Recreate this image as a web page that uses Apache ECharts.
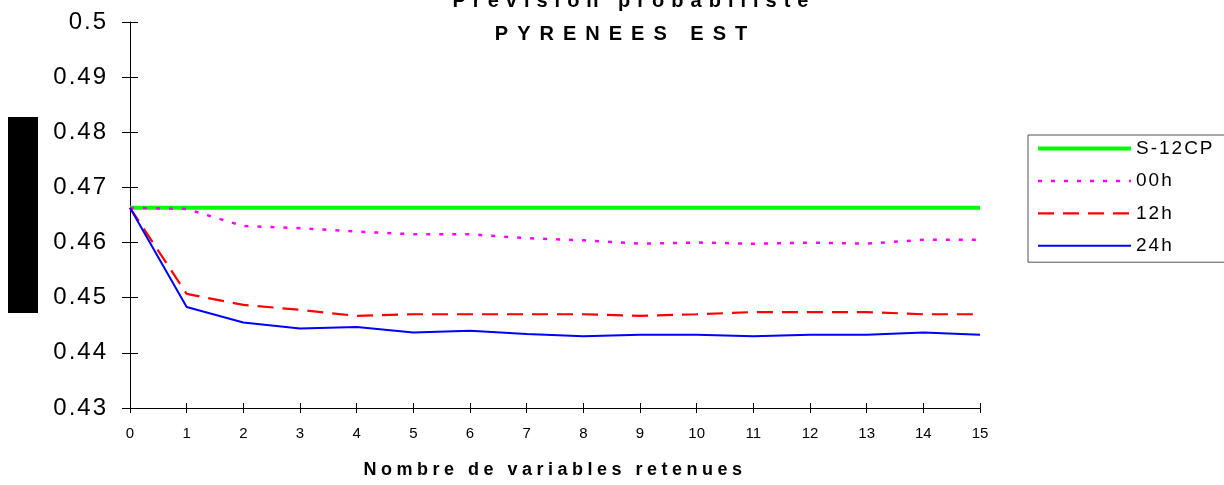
<!DOCTYPE html>
<html>
<head>
<meta charset="utf-8">
<script src="https://cdn.jsdelivr.net/npm/echarts@6/dist/echarts.min.js"></script>
<style>
html, body { margin: 0; padding: 0; background: #ffffff; }
#chart { width: 1224px; height: 485px; }
</style>
</head>
<body>
<div id="chart"></div>
<script>
// ---------- data ----------
const titleLine1 = 'Prévision probabiliste';
const titleLine2 = 'PYRENEES EST';
const xAxisName = 'Nombre de variables retenues';
const xCategories = ['0', '1', '2', '3', '4', '5', '6', '7', '8', '9', '10', '11', '12', '13', '14', '15'];
const yMin = 0.43;
const yMax = 0.5;
const yStep = 0.01;
const seriesNames = ['S-12CP', '00h', '12h', '24h'];
const valuesS12CP = [0.4663, 0.4663, 0.4663, 0.4663, 0.4663, 0.4663, 0.4663, 0.4663, 0.4663, 0.4663, 0.4663, 0.4663, 0.4663, 0.4663, 0.4663, 0.4663];
const values00h = [0.4663, 0.4661, 0.4630, 0.4626, 0.4620, 0.4615, 0.4615, 0.4608, 0.4604, 0.4598, 0.4600, 0.4598, 0.4600, 0.4598, 0.4605, 0.4605];
const values12h = [0.4663, 0.4507, 0.4487, 0.4478, 0.4467, 0.4470, 0.4470, 0.4470, 0.4470, 0.4467, 0.4470, 0.4474, 0.4474, 0.4474, 0.4470, 0.4470];
const values24h = [0.4663, 0.4483, 0.4455, 0.4444, 0.4447, 0.4437, 0.4440, 0.4434, 0.4430, 0.4433, 0.4433, 0.4430, 0.4433, 0.4433, 0.4437, 0.4433];

// ---------- letter spacing (styling only) ----------
function spacingFor(text, font) {
  if (text === titleLine1) return 7;
  if (text === titleLine2) return 9;
  if (text === xAxisName) return 4.5;
  if (/(^|\s)24px/.test(font)) return 2;                        // y tick labels
  if (/(^|\s)19px/.test(font) && !/bold/.test(font)) return 2;  // legend labels
  return 0;
}
(function () {
  const proto = CanvasRenderingContext2D.prototype;
  if (!('letterSpacing' in proto)) return;
  const origFill = proto.fillText;
  const origMeasure = proto.measureText;
  proto.fillText = function (text) {
    this.letterSpacing = spacingFor(String(text), this.font) + 'px';
    const r = origFill.apply(this, arguments);
    this.letterSpacing = '0px';
    return r;
  };
  proto.measureText = function (text) {
    this.letterSpacing = spacingFor(String(text), this.font) + 'px';
    const r = origMeasure.apply(this, arguments);
    this.letterSpacing = '0px';
    return r;
  };
})();

// ---------- chart ----------
const FONT = '"Liberation Sans", Arial, sans-serif';
const chart = echarts.init(document.getElementById('chart'), null, { renderer: 'canvas' });

const lineStyles = [
  { color: '#00ff00', width: 4, type: 'solid' },
  { color: '#ff00ff', width: 2.5, type: [4, 9] },
  { color: '#ff0000', width: 2.2, type: [16, 9] },
  { color: '#0000ff', width: 2, type: 'solid' }
];
const seriesValues = [valuesS12CP, values00h, values12h, values24h];

const option = {
  backgroundColor: '#ffffff',
  animation: false,
  title: [
    {
      text: titleLine1, left: 634, top: -8.2, textAlign: 'center', padding: 0,
      textStyle: { fontFamily: FONT, fontSize: 20, fontWeight: 'bold', color: '#000', lineHeight: 20 }
    },
    {
      text: titleLine2, left: 625.5, top: 24, textAlign: 'center', padding: 0,
      textStyle: { fontFamily: FONT, fontSize: 20, fontWeight: 'bold', color: '#000', lineHeight: 20 }
    }
  ],
  legend: {
    data: seriesNames,
    orient: 'vertical',
    left: 1028,
    top: 135,
    padding: [3, 24, 6, 8],
    itemGap: 11.4,
    itemWidth: 93,
    itemHeight: 14,
    borderColor: '#555',
    borderWidth: 1,
    backgroundColor: '#ffffff',
    itemStyle: { opacity: 0 },
    lineStyle: { width: 'inherit' },
    textStyle: { fontFamily: FONT, fontSize: 19, color: '#000', lineHeight: 20 }
  },
  grid: {
    left: 130, right: 244, top: 22, bottom: 77,
    containLabel: false,
    outerBoundsMode: 'none'
  },
  xAxis: [
    {
      type: 'category',
      data: xCategories,
      boundaryGap: false,
      position: 'bottom',
      name: xAxisName,
      nameLocation: 'middle',
      nameGap: 53,
      nameTextStyle: { fontFamily: FONT, fontSize: 18, fontWeight: 'bold', color: '#000' },
      axisLine: { show: true, lineStyle: { color: '#000', width: 1 } },
      axisTick: { show: true, inside: false, length: 5, alignWithLabel: true, lineStyle: { color: '#000' } },
      axisLabel: { show: true, margin: 18, fontFamily: FONT, fontSize: 15, color: '#000', interval: 0 },
      splitLine: { show: false }
    },
    {
      type: 'category',
      data: xCategories,
      boundaryGap: false,
      position: 'bottom',
      axisLine: { show: false },
      axisTick: { show: true, inside: true, length: 5, lineStyle: { color: '#000' } },
      axisLabel: { show: false },
      splitLine: { show: false }
    }
  ],
  yAxis: [
    {
      type: 'value',
      min: yMin, max: yMax, interval: yStep,
      position: 'left',
      axisLine: { show: true, lineStyle: { color: '#000', width: 1 } },
      axisTick: { show: true, inside: false, length: 8, lineStyle: { color: '#000' } },
      axisLabel: { show: true, margin: 22, fontFamily: FONT, fontSize: 24, color: '#000' },
      splitLine: { show: false }
    },
    {
      type: 'value',
      min: yMin, max: yMax, interval: yStep,
      position: 'left',
      axisLine: { show: false },
      axisTick: { show: true, inside: true, length: 8, lineStyle: { color: '#000' } },
      axisLabel: { show: false },
      splitLine: { show: false }
    }
  ],
  graphic: [
    { type: 'rect', left: 8, top: 117, shape: { width: 30, height: 196 }, style: { fill: '#000' } }
  ],
  series: seriesNames.map((name, i) => ({
    name: name,
    type: 'line',
    xAxisIndex: 0,
    yAxisIndex: 0,
    data: seriesValues[i],
    symbol: 'none',
    smooth: false,
    lineStyle: lineStyles[i],
    itemStyle: { color: lineStyles[i].color },
    emphasis: { disabled: true }
  }))
};
chart.setOption(option);
</script>
</body>
</html>
